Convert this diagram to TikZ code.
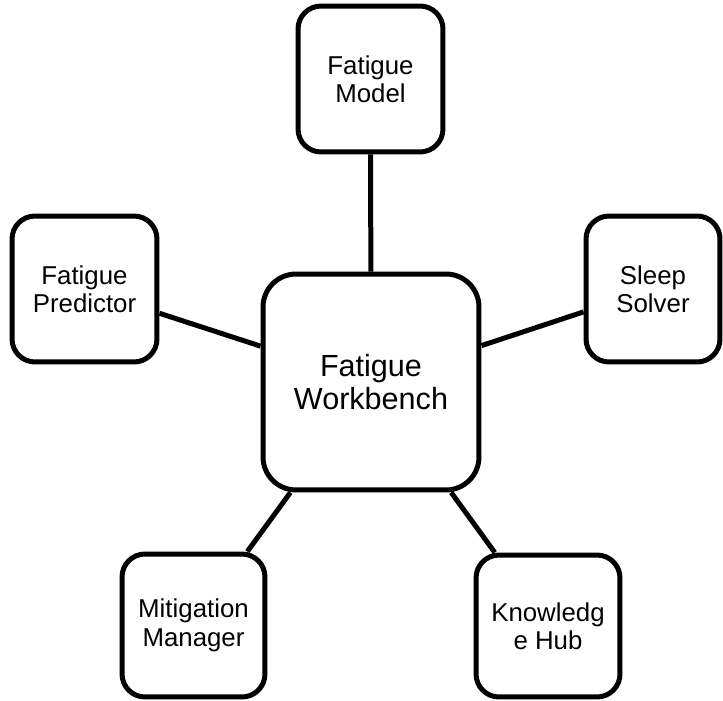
\documentclass[tikz,border=0pt]{standalone}
\usepackage{fontspec}
\setmainfont{Liberation Sans}
\tikzset{
  hub/.style={draw, line width=0.1cm, rounded corners=0.66cm, minimum width=4.32cm, minimum height=4.32cm, align=center, font=\fontsize{17.4}{18.4}\selectfont},
  tool/.style={draw, line width=0.1cm, rounded corners=0.46cm, minimum width=2.9cm, minimum height=2.9cm, align=center, font=\fontsize{14.7}{16.2}\selectfont},
  link/.style={line width=0.1cm}
}
\begin{document}
\begin{tikzpicture}[x=0.02cm, y=-0.02cm]
        \useasboundingbox (0,0) rectangle (723,700);
        % centre
        \node[hub] (wb) at (371,382) {Fatigue\\Workbench};
        % modules round it
        \node[tool, minimum height=2.92cm] (model) at (370.5,79) {Fatigue\\Model};
        \node[tool, minimum height=2.92cm] (predictor) at (84.5,289) {Fatigue\\Predictor};
        \node[tool, minimum width=2.68cm, minimum height=2.92cm] (sleep) at (653,289) {Sleep\\Solver};
        \node[tool, minimum width=2.86cm, minimum height=2.86cm] (mitigation) at (193.5,625.5) {Mitigation\\Manager};
        \node[tool, minimum width=2.88cm, minimum height=2.84cm] (knowledge) at (548,626) {Knowledg\\e Hub};
        \draw[link] (wb) -- (model);
        \draw[link] (wb) -- (predictor);
        \draw[link] (wb) -- (sleep);
        \draw[link] (wb) -- (mitigation);
        \draw[link] (wb) -- (knowledge);
        \end{tikzpicture}
\end{document}
